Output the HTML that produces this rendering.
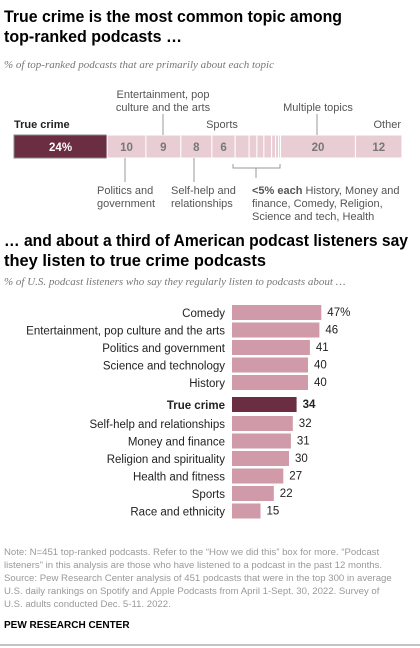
<!DOCTYPE html>
<html><head><meta charset="utf-8"><style>
body{margin:0;background:#fff;}
svg{display:block;font-family:"Liberation Sans",Arial,sans-serif;}
.t{font-weight:bold;font-size:16.5px;fill:#000;}
.sub{font-family:"Liberation Serif",serif;font-style:italic;font-size:11px;fill:#777;}
.lab{font-size:11px;fill:#555;}
.note{font-size:9.6px;fill:#999;}
</style></head><body>
<svg id="c" width="420" height="648" viewBox="0 0 420 648">
<text class="t" x="4" y="22" textLength="338" lengthAdjust="spacingAndGlyphs">True crime is the most common topic among</text>
<text class="t" x="4" y="42" textLength="178" lengthAdjust="spacingAndGlyphs">top-ranked podcasts …</text>
<text class="sub" x="4" y="68">% of top-ranked podcasts that are primarily about each topic</text>
<g id="stack"></g>
<g>
<text class="lab" x="163" y="98" text-anchor="middle">Entertainment, pop</text>
<text class="lab" x="163" y="111" text-anchor="middle">culture and the arts</text>
<line x1="163" y1="114" x2="163" y2="135" stroke="#999"/>
<text x="14" y="128" style="font-weight:bold;font-size:11px;fill:#222">True crime</text>
<text class="lab" x="222" y="128" text-anchor="middle">Sports</text>
<text class="lab" x="318" y="111" text-anchor="middle">Multiple topics</text>
<line x1="317" y1="114" x2="317" y2="135" stroke="#999"/>
<text class="lab" x="401" y="128" text-anchor="end">Other</text>
<line x1="125" y1="158" x2="125" y2="182" stroke="#999"/>
<text class="lab" x="97" y="194">Politics and</text>
<text class="lab" x="97" y="207">government</text>
<line x1="194" y1="158" x2="194" y2="182" stroke="#999"/>
<text class="lab" x="171" y="194">Self-help and</text>
<text class="lab" x="171" y="207">relationships</text>
<path d="M233 164 V168 H280 V164 M256 168 V178" fill="none" stroke="#999"/>
<text class="lab" x="252" y="194"><tspan style="font-weight:bold;fill:#555">&lt;5% each</tspan> History, Money and</text>
<text class="lab" x="252" y="207">finance, Comedy, Religion,</text>
<text class="lab" x="252" y="220">Science and tech, Health</text>
</g>
<text class="t" x="4" y="246" textLength="404" lengthAdjust="spacingAndGlyphs">… and about a third of American podcast listeners say</text>
<text class="t" x="4" y="266" textLength="262" lengthAdjust="spacingAndGlyphs">they listen to true crime podcasts</text>
<text class="sub" x="4" y="285">% of U.S. podcast listeners who say they regularly listen to podcasts about …</text>
<g id="bars"></g>
<g>
<text class="note" x="4" y="555">Note: N=451 top-ranked podcasts. Refer to the “How we did this” box for more. “Podcast</text>
<text class="note" x="4" y="568">listeners” in this analysis are those who have listened to a podcast in the past 12 months.</text>
<text class="note" x="4" y="581">Source: Pew Research Center analysis of 451 podcasts that were in the top 300 in average</text>
<text class="note" x="4" y="594">U.S. daily rankings on Spotify and Apple Podcasts from April 1-Sept. 30, 2022. Survey of</text>
<text class="note" x="4" y="607">U.S. adults conducted Dec. 5-11. 2022.</text>
<text x="4" y="628" style="font-weight:bold;font-size:10px;fill:#000">PEW RESEARCH CENTER</text>
<line x1="0" y1="645" x2="420" y2="645" stroke="#888"/>
</g>
</svg>
<script>
const stackNames=["True crime","Politics","Entertainment","Self-help","Sports","History","Money","Comedy","Religion","Science","Health","Other2","Multiple topics","Other"];
const stackValues=[24,10,9,8,6,3.6,2,1.8,2,1,0.8,0.5,19.3,12];
const stackLabels=["24%","10","9","8","6","","","","","","","","20","12"];
const barCats=["Comedy","Entertainment, pop culture and the arts","Politics and government","Science and technology","History","True crime","Self-help and relationships","Money and finance","Religion and spirituality","Health and fitness","Sports","Race and ethnicity"];
const barVals=[47,46,41,40,40,34,32,31,30,27,22,15];
const barLabels=["47%","46","41","40","40","34","32","31","30","27","22","15"];
const NS="http://www.w3.org/2000/svg";
function mk(t,a,p){const e=document.createElementNS(NS,t);for(const k in a)e.setAttribute(k,a[k]);p.appendChild(e);return e;}
const sx=v=>v*3.88;
const sg=document.getElementById('stack');
let acc=0;
stackValues.forEach((v,i)=>{
 const x=14+sx(acc);
 const r=mk('rect',{x:x,y:135,width:sx(v),height:23,fill:i==0?'#6b2d42':'#e8cdd5',stroke:i==0?'#888':'#fff','stroke-width':1},sg);
 
 
 if(stackLabels[i]){
  const t=mk('text',{x:x+sx(v)/2,y:151,'text-anchor':'middle','font-size':'11.5','font-weight':'bold',fill:i==0?'#fff':'#777'},sg);
  t.textContent=stackLabels[i];
  
  
 }
 acc+=v;
});
const bg=document.getElementById('bars');
const bx=v=>v*1.9, x0=232;
const rowY=[305,322.5,340,357.5,375,397,416,433.5,451,468.5,486,503.5];
barCats.forEach((c,i)=>{
 const tc=i==5;
 const y=rowY[i];
 const r=mk('rect',{x:x0,y:y,width:bx(barVals[i]),height:15,fill:tc?'#6b2d42':'#d09aa8'},bg);
 
 
 const l=mk('text',{x:x0-7,y:y+12,'text-anchor':'end','font-size':'11.5',fill:'#222','font-weight':tc?'bold':'normal'},bg);
 l.textContent=c;
 
 
 const v=mk('text',{x:x0+bx(barVals[i])+6,y:y+11,'font-size':'11.5',fill:'#222','font-weight':tc?'bold':'normal'},bg);
 v.textContent=barLabels[i];
 
 
});
</script>
</body></html>
